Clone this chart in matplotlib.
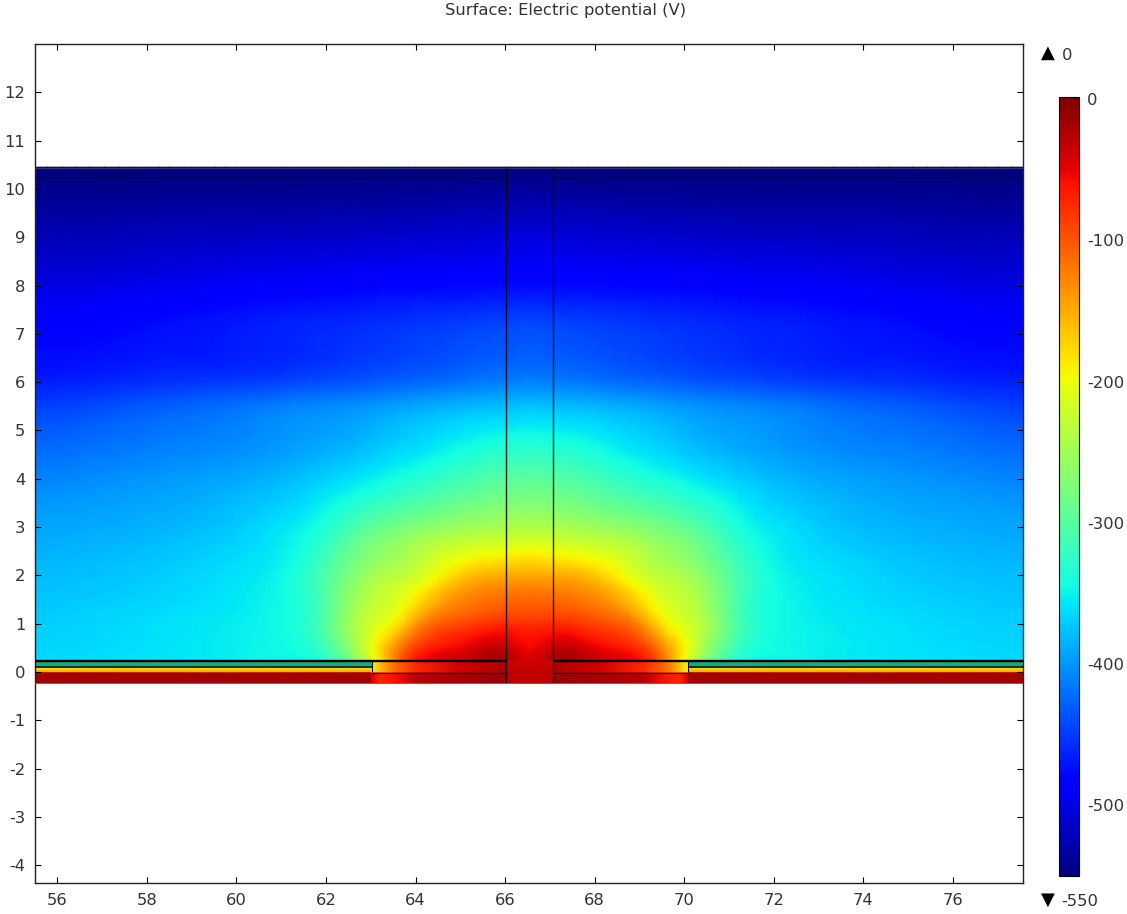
"""
Surface plot of electric potential, drawn from values read off the picture.
"""
import matplotlib
matplotlib.use("Agg")
import matplotlib.pyplot as plt
import matplotlib.tri as mtri
import numpy as np

# half of the field, mirrored about CENTER further down
x_half = [55.45, 58, 60, 61, 62, 63, 63.5, 64, 65, 66, 66.55]
y_rows = [0.22, 0.5, 1, 1.5, 2, 2.5, 3, 4, 5, 5.6, 6, 7, 8, 9, 10, 10.45]
v_half = [
    [-364, -358, -351, -347, -330, -220, -130, -65, -35, -22, -40],
    [-367, -360, -352, -346, -312, -205, -140, -85, -52, -35, -55],
    [-370, -362, -353, -345, -300, -218, -190, -140, -92, -75, -78],
    [-375, -367, -356, -345, -302, -232, -215, -185, -130, -112, -110],
    [-380, -372, -359, -347, -305, -250, -235, -220, -170, -150, -148],
    [-386, -378, -365, -352, -318, -270, -256, -240, -212, -200, -195],
    [-392, -385, -372, -358, -335, -295, -282, -270, -254, -243, -240],
    [-410, -400, -390, -382, -368, -352, -343, -335, -315, -300, -297],
    [-433, -420, -410, -402, -395, -385, -378, -372, -360, -352, -350],
    [-450, -437, -425, -418, -412, -406, -402, -397, -390, -385, -383],
    [-465, -456, -449, -444, -438, -432, -428, -425, -418, -412, -410],
    [-480, -474, -467, -463, -459, -454, -452, -449, -444, -439, -437],
    [-503, -497, -490, -487, -485, -482, -481, -480, -479, -477, -476],
    [-522, -520, -517, -516, -515, -513, -512, -511, -509, -506, -505],
    [-544, -543, -542, -542, -541, -541, -540, -540, -539, -537, -536],
    [-550, -550, -550, -550, -549, -549, -549, -549, -549, -547, -546],
]

# thin layers under the field, x < 63
layer_y = [-0.22, -0.01, 0.01, 0.1, 0.1, 0.22]
layer_v = [-18, -18, -150, -185, -325, -325]

# top and bottom layers between x = 63 and x = 66
inner_x = [63.02, 63.2, 63.5, 64, 65, 66.03]
inner_top_v = [-205, -160, -115, -75, -40, -22]
inner_bot_v = [-45, -72, -62, -30, -20, -15]

# column foot between the two plates, below the field
column_y = [-0.22, 0.0, 0.22]
column_v = [-28, -32, -40]

x_ticks = [56, 58, 60, 62, 64, 66, 68, 70, 72, 74, 76]
y_ticks = [-4, -3, -2, -1, 0, 1, 2, 3, 4, 5, 6, 7, 8, 9, 10, 11, 12]
cbar_ticks = [0, -100, -200, -300, -400, -500]

V_MIN, V_MAX = -550, 0
CENTER = 66.55
COL_L, COL_R = 66.03, 67.07
PLATE_L, PLATE_R = 63.02, 70.08
X0, X1 = 55.5, 77.57
W, H = 1127, 914
FS = 11.8

plt.rcParams["font.family"] = "DejaVu Sans"
plt.rcParams["font.size"] = FS
plt.rcParams["axes.unicode_minus"] = False
TEXT = "#333333"
jet = dict(cmap="jet", vmin=V_MIN, vmax=V_MAX)


def mirror(x, z):
    x = np.asarray(x, float)
    z = np.asarray(z, float)
    return 2 * CENTER - x[::-1], z[..., ::-1]


def strip(ax, x, y, z):
    ax.pcolormesh(x, y, np.asarray(z, float), shading="gouraud", **jet)


fig = plt.figure(figsize=(W / 100, H / 100), dpi=100)
ax = fig.add_axes([35 / W, 1 - 883 / H, (1023 - 35) / W, (883 - 44) / H])

# main field, smoothed by the refiner of matplotlib.tri
v = np.array(v_half, float)
xm, vm = mirror(x_half, v)
xg, yg = np.meshgrid(np.concatenate([x_half, xm[1:]]), y_rows)
vg = np.hstack([v, vm[:, 1:]])
tri = mtri.Triangulation(xg.ravel(), yg.ravel())
tri_fine, v_fine = mtri.UniformTriRefiner(tri).refine_field(vg.ravel(), subdiv=3)
ax.tripcolor(tri_fine, v_fine, shading="gouraud", **jet)

# layers outside the plate
strip(ax, [X0 - 0.1, PLATE_L], layer_y, np.array([layer_v, layer_v]).T)
strip(ax, [PLATE_R, X1 + 0.1], layer_y, np.array([layer_v, layer_v]).T)

# layers under the plate
for vals, y0, y1 in [(inner_top_v, -0.02, 0.22), (inner_bot_v, -0.22, -0.02)]:
    z = np.array([vals, vals], float)
    strip(ax, inner_x, [y0, y1], z)
    xr, zr = mirror(inner_x, z)
    strip(ax, xr, [y0, y1], zr)

# column foot
strip(ax, [COL_L, COL_R], column_y, np.array([column_v, column_v]).T)

# domain outlines
line = dict(color="black", solid_capstyle="butt", zorder=3)
ax.plot([X0, X1], [10.44, 10.44], lw=1.0, color="#333355", zorder=3)
ax.plot([X0, COL_L], [10.22, 10.22], lw=1.2, alpha=0.35, **line)
ax.plot([COL_R, X1], [10.22, 10.22], lw=1.2, alpha=0.35, **line)
for xv in [COL_L, COL_R]:
    ax.plot([xv, xv], [-0.22, 10.44], lw=1.0, alpha=0.85, **line)
for a, b in [(X0, COL_L), (COL_R, X1)]:
    ax.plot([a, b], [0.22, 0.22], lw=1.7, **line)
for a, b in [(X0, PLATE_L), (PLATE_R, X1)]:
    # dulls the teal layer like the blurred lines around it
    ax.plot([a, b], [0.16, 0.16], lw=3.0, alpha=0.35, **line)
    ax.plot([a, b], [0.1, 0.1], lw=1.1, **line)
for a, b in [(PLATE_L, COL_L), (COL_R, PLATE_R)]:
    ax.plot([a, b], [-0.02, -0.02], lw=0.9, alpha=0.7, **line)
for xv in [PLATE_L, PLATE_R]:
    ax.plot([xv, xv], [0.0, 0.22], lw=0.8, **line)
ax.plot([X0, X1], [-0.22, -0.22], lw=0.7, color="#666666", zorder=3)

ax.set_xlim(X0, X1)
ax.set_ylim(-4.37, 13.0)
ax.set_xticks(x_ticks)
ax.set_yticks(y_ticks)
ax.tick_params(direction="in", top=True, right=True, length=4.5, width=0.8,
               labelsize=FS, labelcolor=TEXT, pad=7)
for s in ax.spines.values():
    s.set_linewidth(1.0)
    s.set_color("#222222")

fig.text(566 / W, 1 - 10 / H, "Surface: Electric potential (V)", ha="center",
         va="center", fontsize=FS, color=TEXT)

# colour bar
cax = fig.add_axes([1059 / W, 1 - 876 / H, 20 / W, (876 - 97) / H])
sm = plt.cm.ScalarMappable(norm=plt.Normalize(V_MIN, V_MAX), cmap="jet")
cb = fig.colorbar(sm, cax=cax)
cb.set_ticks(cbar_ticks)
cax.set_facecolor(plt.cm.jet(1.0))
cax.set_ylim(V_MIN, V_MAX + 1.5)
cax.tick_params(length=0, labelsize=FS, labelcolor=TEXT, pad=6)
cax.set_yticklabels([str(t) for t in cbar_ticks])
cb.outline.set_linewidth(0.8)

# range markers
fig.text(1048 / W, 1 - 53 / H, "▲", ha="center", va="center", fontsize=13, color="black")
fig.text(1062 / W, 1 - 55 / H, "0", ha="left", va="center", color=TEXT, fontsize=FS)
fig.text(1048 / W, 1 - 900 / H, "▼", ha="center", va="center", fontsize=13, color="black")
fig.text(1061 / W, 1 - 901 / H, "-550", ha="left", va="center", color=TEXT, fontsize=FS)

fig.savefig("out.png", dpi=100)
